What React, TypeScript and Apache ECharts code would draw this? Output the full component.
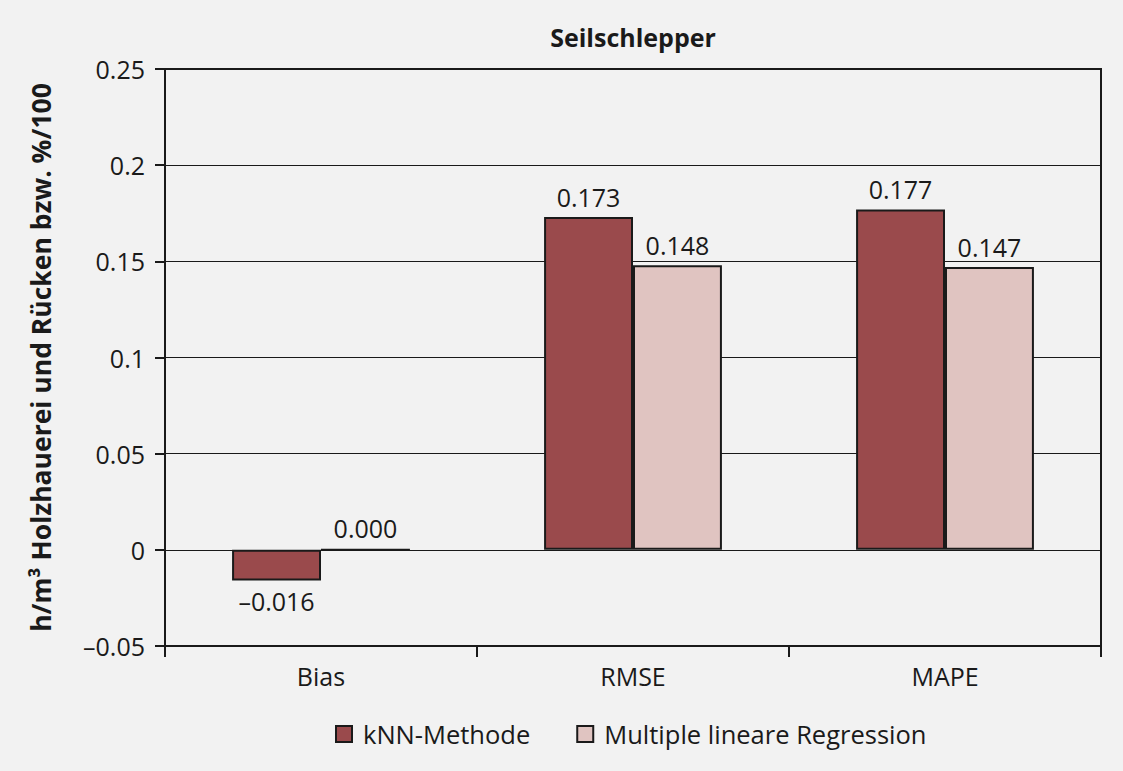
import React, { useEffect, useRef } from "react";
import * as echarts from "echarts";

const categories = ["Bias", "RMSE", "MAPE"];
const knnValues = [-0.016, 0.173, 0.177];
const mlrValues = [0.0, 0.148, 0.147];
const seriesNames = ["kNN-Methode", "Multiple lineare Regression"];
const titleText = "Seilschlepper";
const yAxisTitle = "h/m³ Holzhauerei und Rücken bzw. %/100";

const FONT = "'Open Sans', 'Noto Sans', sans-serif";
const INK = "#1a1a1a";
const FS = 25;

const fmt = (v: number, d: number) => {
  const s = v.toFixed(d);
  return s.startsWith("-") ? "–" + s.slice(1) : s;
};

export default function App() {
  const ref = useRef<HTMLDivElement>(null);
  useEffect(() => {
    if (!ref.current) return;
    const chart = echarts.init(ref.current, null, { renderer: "svg" });
    const mkData = (vals: number[]) =>
      vals.map((v) => ({
        value: v,
        label: { position: v < 0 ? "bottom" : "top" },
      }));
    const labelCfg = {
      show: true,
      fontFamily: FONT,
      fontSize: FS,
      color: INK,
      distance: 8,
      formatter: (p: any) => fmt(p.value, 3),
    };
    chart.setOption({
      animation: false,
      backgroundColor: "#f2f2f2",
      textStyle: { fontFamily: FONT, color: INK },
      graphic: [
        {
          type: "text",
          x: 633,
          y: 37,
          style: {
            text: titleText,
            fontFamily: FONT,
            fontSize: FS,
            fontWeight: "bold",
            fill: INK,
            textAlign: "center",
            textVerticalAlign: "middle",
          },
        },
      ],
      grid: {
        left: 165,
        right: 22,
        top: 69,
        bottom: 125,
        show: true,
        borderColor: INK,
        borderWidth: 2,
        backgroundColor: "transparent",
      },
      legend: {
        top: 716,
        left: 330,
        itemWidth: 16,
        itemHeight: 16,
        itemGap: 46,
        icon: "rect",
        textStyle: { fontFamily: FONT, fontSize: 25.5, color: INK, padding: [0, 0, 0, 6] },
        data: seriesNames,
      },
      xAxis: {
        type: "category",
        data: categories,
        axisLine: { show: true, onZero: false, lineStyle: { color: INK, width: 2 } },
        axisTick: { show: true, length: 11, interval: 0, lineStyle: { color: INK, width: 2 } },
        axisLabel: { fontFamily: FONT, fontSize: FS, color: INK, margin: 17 },
      },
      yAxis: {
        type: "value",
        min: -0.05,
        max: 0.25,
        interval: 0.05,
        name: yAxisTitle,
        nameLocation: "middle",
        nameGap: 111,
        nameTextStyle: { fontFamily: FONT, fontSize: 26.5, fontWeight: "bold", color: INK },
        axisLine: { show: true, lineStyle: { color: INK, width: 2 } },
        axisTick: { show: true, length: 10, lineStyle: { color: INK, width: 2 } },
        axisLabel: {
          fontFamily: FONT,
          fontSize: FS,
          color: INK,
          margin: 20,
          formatter: (v: number) => fmt(v, 2).replace(/0+$/, "").replace(/\.$/, ""),
        },
        splitLine: { show: true, lineStyle: { color: INK, width: 1 } },
      },
      series: [
        {
          name: seriesNames[0],
          type: "bar",
          data: mkData(knnValues),
          barGap: "0%",
          barCategoryGap: "43%",
          itemStyle: { color: "#9a4a4c", borderColor: INK, borderWidth: 2 },
          label: labelCfg,
        },
        {
          name: seriesNames[1],
          type: "bar",
          data: mkData(mlrValues),
          barGap: "0%",
          barCategoryGap: "43%",
          itemStyle: { color: "#e0c4c1", borderColor: INK, borderWidth: 2 },
          label: labelCfg,
        },
      ],
    });
    return () => chart.dispose();
  }, []);
  return (
    <div
      ref={ref}
      style={{ position: "fixed", left: 0, top: 0, width: 1123, height: 771 }}
    />
  );
}
